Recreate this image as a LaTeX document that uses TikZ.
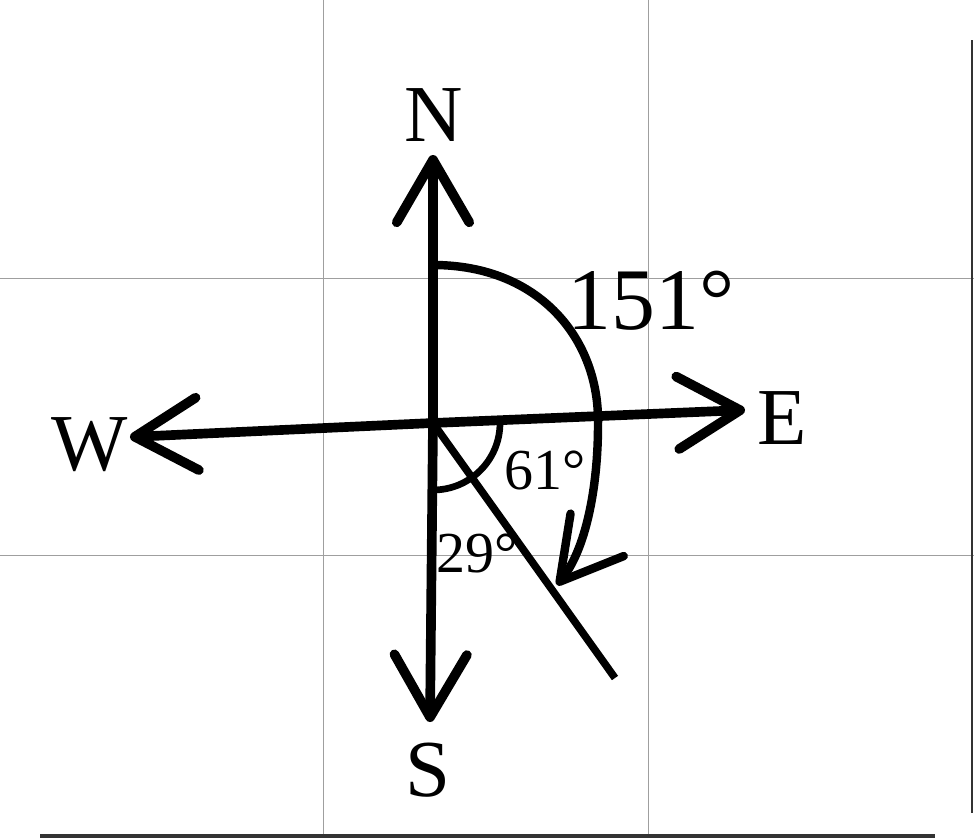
\documentclass[tikz,border=0pt]{standalone}
\usepackage{fontspec}
\setmainfont{Liberation Serif}
\usetikzlibrary{arrows.meta}
\usetikzlibrary{positioning}

\tikzset{
  axis/.style={line width=5.5pt, -{Straight Barb[length=1.25cm, width=1.45cm, round]}},
  letter/.style={inner sep=0pt, font=\fontsize{46}{46}\selectfont},
  bigangle/.style={inner sep=0pt, font=\fontsize{50}{50}\selectfont},
  smallangle/.style={inner sep=0pt, font=\fontsize{33}{33}\selectfont},
  gridline/.style={line width=0.5pt, color=gray!75},
}

\begin{document}
\begin{tikzpicture}
\useasboundingbox (-8.66,8.46) rectangle (10.82,-8.30);
% faint grid and scan edges
\foreach \x in {-2.20, 4.30}
  \draw[gridline] (\x,8.46) -- (\x,-8.30);
\foreach \y in {2.90, -2.64}
  \draw[gridline] (-8.66,\y) -- (10.82,\y);
\fill[black!80] (-7.86,-8.22) rectangle (10.04,-8.30);
\draw[black!80, line width=1.2pt] (10.78,7.66) -- (10.78,-7.80);

\coordinate (O) at (0,0);
\coordinate (tipN) at (0,5.36);
\coordinate (tipS) at (-0.06,-5.98);
\coordinate (tipW) at (-6.06,-0.28);
\coordinate (tipE) at (6.24,0.26);
\coordinate (bearing) at (3.64,-5.10);

% compass axes
\draw[axis] (O) -- (tipN);
\draw[axis] (O) -- (tipS);
\draw[axis] (O) -- (tipW);
\draw[axis] (O) -- (tipE);

\node[letter] (lblN) at (0.02,6.16) {N};
\node[letter] (lblS) at (-0.10,-6.94) {S};
\node[letter] (lblW) at (-6.86,-0.44) {W};
\node[letter] (lblE) at (6.98,0.10) {E};

% angles
\draw[line width=4.8pt, -{Straight Barb[length=1.2cm, width=1.36cm, round]}]
  (0,3.16) .. controls (2.14,3.16) and (3.34,1.66) .. (3.30,-0.04)
  .. controls (3.30,-1.34) and (3.04,-2.54) .. (2.48,-3.24);
\draw[line width=3.8pt] (0:1.34) arc (0:-90:1.34);

\node[bigangle] (ang151) at (4.36,2.44) {151°};
\node[smallangle] (ang61) at (2.24,-0.94) {61°};
\node[smallangle] (ang29) at (0.88,-2.60) {29°};

% bearing line over the label
\draw[line width=4.3pt] (O) -- (bearing);
\end{tikzpicture}
\end{document}
